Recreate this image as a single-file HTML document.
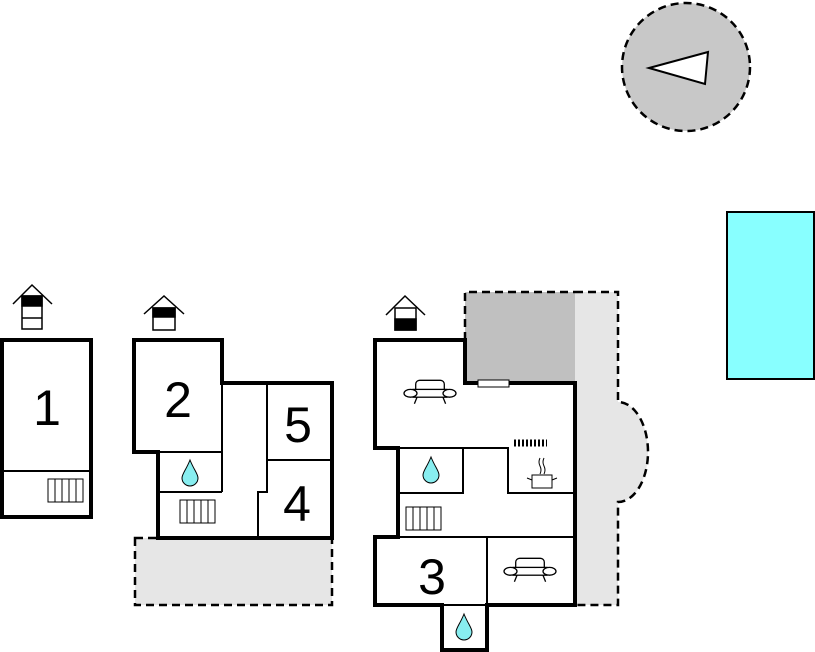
<!DOCTYPE html><html><head><style>body{margin:0;background:#fff}svg{display:block}</style></head><body>
<svg width="815" height="652" viewBox="0 0 815 652" xmlns="http://www.w3.org/2000/svg" font-family="Liberation Sans, sans-serif">
<circle cx="686" cy="67" r="64" fill="#c8c8c8" stroke="#000" stroke-width="2.5" stroke-dasharray="8,5"/>
<polygon points="649,68 708,52 705,84" fill="#fff" stroke="#000" stroke-width="2"/>
<rect x="727" y="212" width="87" height="167" fill="#88ffff" stroke="#000" stroke-width="2"/>
<rect x="135" y="538" width="197" height="67" fill="#e6e6e6" stroke="#000" stroke-width="2.5" stroke-dasharray="8,5"/>
<path d="M575,292 H618 V402 A30,50 0 0 1 618,502 V605 H575 Z" fill="#e6e6e6"/>
<path d="M575,292 H618 V402 A30,50 0 0 1 618,502 V605 H575" fill="none" stroke="#000" stroke-width="2.5" stroke-dasharray="8,5"/>
<rect x="465" y="292" width="110" height="91" fill="#c0c0c0"/>
<path d="M465,340 V292 H575" fill="none" stroke="#000" stroke-width="2.5" stroke-dasharray="8,5"/>
<g fill="none" stroke="#000">
<rect x="2" y="340" width="89" height="177" fill="#fff" stroke-width="4"/>
<line x1="2" y1="471" x2="91" y2="471" stroke-width="2"/>
<path d="M134,340 H222 V383 H332 V538 H158 V452 H134 Z" fill="#fff" stroke-width="4"/>
<path d="M222,383 V492 M158,452 H222 M158,492 H222 M267,383 V492 H258 V538 M267,460 H332" stroke-width="2"/>
<path d="M375,340 H465 V383 H575 V605 H487 V650 H442 V605 H375 V537 H398 V448 H375 Z" fill="#fff" stroke-width="4"/>
<path d="M398,448 H508 V493 H575 M463,448 V493 H398 M398,537 H575 M487,537 V605 M442,605 H487" stroke-width="2"/>
</g>
<rect x="478" y="380" width="31" height="7" fill="#fff" stroke="#000" stroke-width="1"/>
<g fill="#fff" stroke="#000" stroke-width="1">
<rect x="48" y="479" width="35" height="23"/><path d="M55,479V502M62,479V502M69,479V502M76,479V502"/>
<rect x="180" y="500" width="35" height="23"/><path d="M187,500V523M194,500V523M201,500V523M208,500V523"/>
<rect x="406" y="507" width="35" height="23"/><path d="M413,507V530M420,507V530M427,507V530M434,507V530"/>
</g>
<g fill="#88eef0" stroke="#000" stroke-width="1">
<path d="M190,460 C186,470 182,474 182,478 A8,8 0 0 0 198,478 C198,474 194,470 190,460Z"/>
<path d="M431,457 C427,467 423,471 423,475 A8,8 0 0 0 439,475 C439,471 435,467 431,457Z"/>
<path d="M464,614 C460,624 456,628 456,632 A8,8 0 0 0 472,632 C472,628 468,624 464,614Z"/>
</g>
<g fill="#fff" stroke="#000" stroke-width="1">
<g transform="translate(430,392) scale(1.3)"><rect x="-11" y="-9" width="22" height="10" rx="3"/><rect x="-13" y="-2" width="26" height="6"/><ellipse cx="-15" cy="1" rx="5" ry="3"/><ellipse cx="15" cy="1" rx="5" ry="3"/><path d="M-10,4 L-12,9 M10,4 L12,9"/></g>
<g transform="translate(530,570) scale(1.3)"><rect x="-11" y="-9" width="22" height="10" rx="3"/><rect x="-13" y="-2" width="26" height="6"/><ellipse cx="-15" cy="1" rx="5" ry="3"/><ellipse cx="15" cy="1" rx="5" ry="3"/><path d="M-10,4 L-12,9 M10,4 L12,9"/></g>
<rect x="532" y="475" width="20" height="13"/><path d="M527,478 L532,480 M552,480 L557,478 M540,458 q-2,4 0,8 q2,4 0,8 M544,458 q-2,4 0,8 q2,4 0,8"/>
</g>
<path d="M514,443 H547" stroke="#000" stroke-width="7" stroke-dasharray="2,2"/>
<g fill="#fff" stroke="#000" stroke-width="1.5">
<path d="M13,304 L32,285 L52,304"/><rect x="22" y="296" width="20" height="33"/><rect x="22" y="296" width="20" height="10" fill="#000"/><line x1="22" y1="318" x2="42" y2="318"/>
<path d="M144,314 L164,296 L184,314"/><rect x="153" y="308" width="22" height="22"/><rect x="153" y="308" width="22" height="9" fill="#000"/>
<path d="M386,315 L405,296 L425,315"/><rect x="395" y="308" width="21" height="22"/><rect x="395" y="319" width="21" height="11" fill="#000"/>
</g>
<g font-size="50" text-anchor="middle" fill="#000">
<text x="47" y="425">1</text><text x="178" y="417">2</text><text x="298" y="442">5</text><text x="297" y="521">4</text><text x="432" y="594">3</text>
</g>
</svg></body></html>
